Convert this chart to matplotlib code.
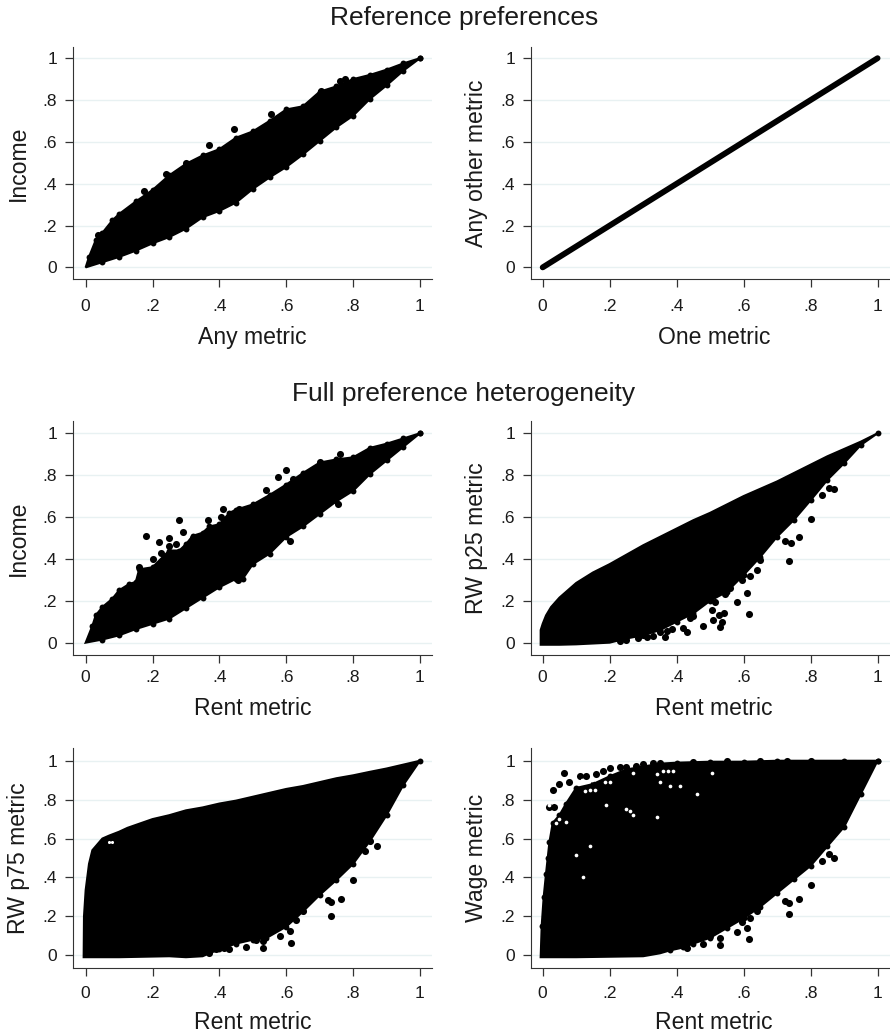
import matplotlib
matplotlib.use('Agg')
import matplotlib.pyplot as plt

plt.rcParams['font.family'] = ['Liberation Sans', 'DejaVu Sans']

TICKS = [0, .2, .4, .6, .8, 1]
TICK_LABELS = ['0', '.2', '.4', '.6', '.8', '1']

# Any metric vs income: outline of the point cloud, then the stray points
any_x_up = [0, .01, .03, .05, .08, .1, .15, .2, .25, .3, .35, .4, .45, .5, .55, .6, .65, .7, .75, .8, .85, .9, .95, 1]
any_up = [0, .05, .13, .165, .225, .255, .315, .37, .44, .495, .535, .565, .62, .65, .70, .755, .77, .84, .865, .90, .92, .945, .975, 1]
any_x_low = [0, .05, .1, .15, .2, .25, .3, .35, .4, .45, .5, .55, .6, .65, .7, .75, .8, .85, .9, .95, 1]
any_low = [0, .025, .05, .08, .115, .145, .185, .24, .27, .31, .375, .43, .48, .54, .605, .67, .725, .805, .87, .94, 1]
any_px = [.038, .37, .445, .555, .705, .775, .3, .76, .24, .175]
any_py = [.157, .585, .66, .735, .845, .90, .50, .89, .445, .365]

# One metric vs any other metric
line_x = [0, .2, .4, .6, .8, 1]
line_y = [0, .2, .4, .6, .8, 1]

# Rent vs income
inc_x_up = [0, .02, .03, .05, .08, .1, .13, .15, .16, .2, .25, .28, .3, .32, .35, .37, .4, .43, .45, .5, .55, .6, .65, .7, .75, .8, .85, .9, .95, 1]
inc_up = [0, .08, .13, .17, .21, .25, .28, .29, .35, .36, .44, .44, .47, .51, .525, .555, .565, .62, .635, .66, .705, .755, .81, .86, .875, .885, .93, .95, .975, 1]
inc_x_low = [0, .05, .1, .15, .2, .25, .3, .35, .4, .45, .47, .5, .55, .6, .65, .7, .75, .8, .85, .9, .95, 1]
inc_low = [0, .015, .035, .065, .09, .115, .165, .215, .265, .305, .305, .375, .425, .505, .555, .615, .675, .725, .805, .87, .935, 1]
inc_px = [.18, .22, .2, .25, .28, .29, .25, .27, .3, .32, .365, .41, .405, .46, .575, .6, .54, .62, .76, .7, .61, .755, .455, .16, .225]
inc_py = [.51, .48, .40, .50, .585, .53, .46, .47, .455, .50, .585, .64, .60, .64, .79, .825, .73, .78, .90, .865, .485, .66, .30, .36, .43]

# Rent vs RW p25
p25_x_up = [-.006, -.006, 0, .01, .025, .05, .075, .1, .125, .15, .175, .2, .25, .3, .35, .4, .45, .5, .55, .6, .65, .7, .75, .8, .85, .9, .95, 1]
p25_up = [-.01, .06, .09, .13, .17, .215, .25, .285, .31, .335, .355, .375, .42, .465, .505, .545, .585, .62, .66, .70, .735, .77, .81, .85, .89, .925, .96, 1]
p25_x_low = [-.006, .05, .1, .2, .25, .3, .35, .4, .45, .5, .55, .6, .65, .7, .75, .8, .85, .9, .95, 1]
p25_low = [-.01, -.01, -.008, .0, .02, .035, .06, .10, .14, .20, .243, .323, .41, .506, .586, .68, .777, .857, .944, 1]
p25_px = [.87, .855, .835, .8, .765, .725, .74, .735, .61, .58, .615, .53, .535, .48, .505, .51, .525, .54, .43, .42, .44, .385, .365, .35, .31, .285, .25, .62, .64, .595, .65, .56, .545, .515, .33, .37, .45, .23, .3]
p25_py = [.735, .74, .705, .59, .505, .485, .477, .39, .235, .195, .135, .073, .10, .08, .155, .108, .13, .143, .05, .07, .12, .065, .025, .05, .025, .02, .015, .32, .345, .30, .395, .26, .23, .195, .03, .055, .125, .01, .035]

# Rent vs RW p75
p75_x_up = [-.006, -.005, 0, .01, .02, .03, .05, .07, .1, .125, .15, .2, .25, .3, .35, .4, .45, .5, .55, .6, .65, .7, .75, .8, .85, .9, .95, 1]
p75_up = [-.01, .2, .335, .47, .54, .56, .60, .615, .635, .655, .67, .70, .72, .745, .76, .78, .795, .815, .835, .855, .87, .89, .91, .925, .943, .96, .98, 1]
p75_x_low = [-.006, .1, .25, .3, .35, .37, .4, .45, .5, .54, .6, .65, .7, .75, .8, .85, .9, .95, 1]
p75_low = [-.01, -.01, -.005, -.01, -.005, .01, .03, .06, .08, .088, .147, .225, .31, .387, .47, .587, .72, .875, 1]
p75_px = [.87, .85, .835, .8, .765, .725, .735, .735, .61, .58, .615, .53, .48, .43, .39, .51, .6, .63, .65, .53, .415, .37]
p75_py = [.56, .585, .535, .385, .29, .285, .275, .20, .125, .10, .065, .035, .04, .03, .03, .08, .17, .18, .225, .075, .035, .01]
p75_hole_x = [.07, .08]
p75_hole_y = [.58, .58]

# Rent vs wage
wage_x_up = [-.006, -.003, .003, .01, .015, .02, .03, .05, .07, .1, .15, .2, .25, .3, .35, .4, .5, .6, .7, .8, .9, 1]
wage_up = [-.01, .15, .3, .42, .5, .58, .68, .72, .78, .86, .88, .92, .955, .97, .985, .99, .995, .995, 1, 1, 1, 1]
wage_x_low = [-.006, .1, .3, .35, .38, .42, .45, .5, .55, .6, .65, .7, .75, .8, .85, .9, .95, 1]
wage_low = [-.01, -.01, -.005, .01, .025, .04, .06, .09, .14, .19, .25, .32, .39, .46, .56, .66, .83, 1]
wage_px = [.87, .855, .835, .8, .765, .725, .735, .735, .61, .58, .615, .53, .48, .43, .39, .53, .5, .595, .64, .62,
           .065, .03, .02, .035, .05, .08, .11, .16, .2, .25, .3, .35, .45, .65, .8, .13, .18, .23, .28, .33, .55, .73]
wage_py = [.50, .52, .485, .363, .288, .28, .27, .212, .14, .12, .082, .053, .057, .036, .045, .09, .10, .17, .23, .19,
           .935, .85, .76, .76, .88, .89, .92, .93, .965, .97, .985, .99, .995, 1, 1, .92, .945, .97, .975, .99, 1, 1]
wage_hole_x = [.125, .14, .155, .185, .2, .116, .147, .36, .375, .39, .34, .27, .505, .04, .05, .07, .04, .02, .14, .1, .12, .26, .27, .34, .19, .25, .35, .38, .41, .46]
wage_hole_y = [.845, .85, .85, .89, .892, .90, .90, .949, .949, .948, .93, .935, .935, .79, .70, .685, .68, .77, .56, .515, .40, .74, .72, .71, .77, .75, .89, .87, .87, .83]

# axes boxes in pixels: left, right and top, bottom
WIDTH, HEIGHT = 890, 1033
COLS = [(73.3, 432), (531.3, 897)]
ROWS = [(46.7, 279.3), (420.7, 655), (748.3, 967.7)]
XLIMS = [(-.037, 1.036), (-.034, 1.058)]
YLIMS = [(-.057, 1.055), (-.059, 1.06), (-.064, 1.064)]
TICK_PADS = [9, 5.3, 8]
XLABEL_Y = [-.2, -.179, -.197]

fig = plt.figure(figsize=(WIDTH / 100, HEIGHT / 100), dpi=100)


def make_axes(col, row, xlabel, ylabel):
    left, right = COLS[col]
    top, bottom = ROWS[row]
    ax = fig.add_axes([left / WIDTH, 1 - bottom / HEIGHT, (right - left) / WIDTH, (bottom - top) / HEIGHT])
    ax.set_xlim(XLIMS[col])
    ax.set_ylim(YLIMS[row])
    ax.spines['top'].set_visible(False)
    ax.spines['right'].set_visible(False)
    ax.spines['left'].set_color('#333333')
    ax.spines['bottom'].set_color('#333333')
    ax.set_xticks(TICKS, TICK_LABELS)
    ax.set_yticks(TICKS, TICK_LABELS)
    ax.tick_params(length=5.5, width=0.9, color='#333333', labelsize=12.5, labelcolor='#1a1a1a')
    ax.tick_params(axis='x', pad=TICK_PADS[row])
    ax.tick_params(axis='y', pad=6)
    ax.grid(axis='y', color='#e8f1f2', lw=1.0)
    ax.set_axisbelow(True)
    ax.set_xlabel(xlabel, fontsize=16.6, color='#1a1a1a')
    ax.set_ylabel(ylabel, fontsize=16.6, color='#1a1a1a', labelpad=9)
    ax.xaxis.set_label_coords(.5, XLABEL_Y[row])
    return ax


def draw_cloud(ax, x_up, up, x_low, low, px, py, rough_up=True):
    # closed outline: along the top to the right, back along the bottom
    ax.fill(x_up + x_low[::-1], up + low[::-1], color='black', lw=1.5, zorder=3)
    ax.scatter(px, py, s=26, color='black', lw=0, zorder=4)
    # the cloud is made of dots, so its edge is lumpy, except on the flat floor
    keep = [i for i in range(len(low)) if low[i] > .01]
    ax.scatter([x_low[i] for i in keep], [low[i] for i in keep], s=18, color='black', lw=0, zorder=4)
    if rough_up:
        keep = [i for i in range(len(up)) if up[i] > .01]
        ax.scatter([x_up[i] for i in keep], [up[i] for i in keep], s=18, color='black', lw=0, zorder=4)


ax = make_axes(0, 0, 'Any metric', 'Income')
draw_cloud(ax, any_x_up, any_up, any_x_low, any_low, any_px, any_py)

ax = make_axes(1, 0, 'One metric', 'Any other metric')
ax.plot(line_x, line_y, color='black', lw=4.2, solid_capstyle='round', zorder=3)

ax = make_axes(0, 1, 'Rent metric', 'Income')
draw_cloud(ax, inc_x_up, inc_up, inc_x_low, inc_low, inc_px, inc_py)

ax = make_axes(1, 1, 'Rent metric', 'RW p25 metric')
draw_cloud(ax, p25_x_up, p25_up, p25_x_low, p25_low, p25_px, p25_py, rough_up=False)

ax = make_axes(0, 2, 'Rent metric', 'RW p75 metric')
draw_cloud(ax, p75_x_up, p75_up, p75_x_low, p75_low, p75_px, p75_py, rough_up=False)
ax.scatter(p75_hole_x, p75_hole_y, s=5, color='white', lw=0, zorder=5)

ax = make_axes(1, 2, 'Rent metric', 'Wage metric')
draw_cloud(ax, wage_x_up, wage_up, wage_x_low, wage_low, wage_px, wage_py)
ax.scatter(wage_hole_x, wage_hole_y, s=7, color='white', lw=0, zorder=5)

fig.text(464 / WIDTH, 1 - 18 / HEIGHT, 'Reference preferences', fontsize=19, color='#1a1a1a', ha='center', va='center')
fig.text(464 / WIDTH, 1 - 394 / HEIGHT, 'Full preference heterogeneity', fontsize=19, color='#1a1a1a', ha='center', va='center')

fig.savefig('out.png', dpi=100)
